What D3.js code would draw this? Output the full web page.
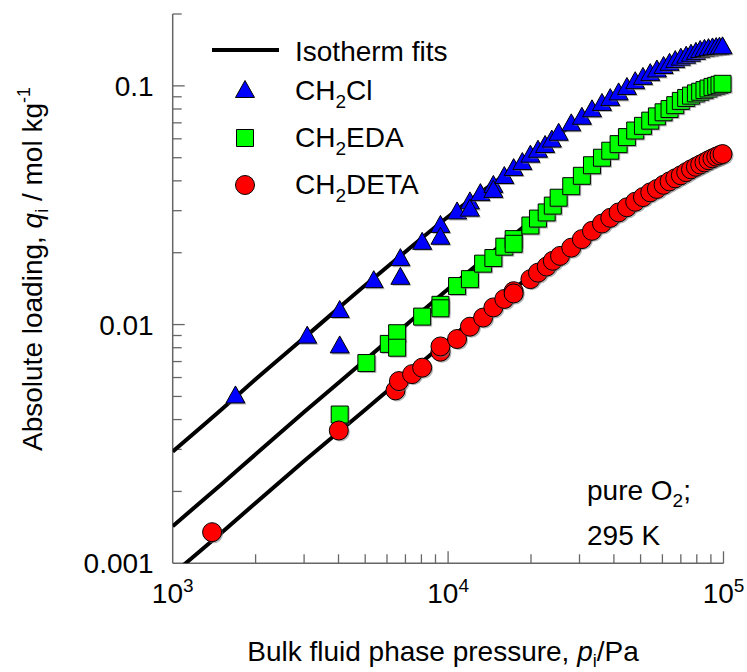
<!DOCTYPE html>
<html><head><meta charset="utf-8">
<script src="https://cdn.jsdelivr.net/npm/d3@7"></script>
<style>body{margin:0;background:#fff}svg{display:block}text{font-family:"Liberation Sans",Arial,sans-serif;fill:#000}</style>
</head><body><svg id="c" width="747" height="672"></svg>
<script>
// ---------- data ----------
const xTickLabels = ["3", "4", "5"];          // exponents of 10
const yTickLabels = ["0.001", "0.01", "0.1"];
const seriesNames = ["CH2Cl", "CH2EDA", "CH2DETA"];

const fitP    = [1000,1500,2000,3000,5000,7000,10000,15000,20000,30000,40000,50000,60000,70000,80000,90000,100000];
const fitCl   = [0.00294,0.0044,0.0059,0.0088,0.0146,0.0202,0.0283,0.0400,0.0510,0.0722,0.0905,0.1065,0.1195,0.1295,0.1375,0.1425,0.1455];
const fitEda  = [0.00143,0.00214,0.00286,0.0043,0.0071,0.0099,0.0141,0.0208,0.0272,0.0412,0.0552,0.0672,0.0772,0.0862,0.0935,0.0985,0.1025];
const fitDeta = [0.0009,0.00134,0.00179,0.00268,0.0044,0.0061,0.0086,0.0125,0.0160,0.0226,0.0286,0.0338,0.0383,0.0423,0.0460,0.0490,0.0518];

const clP = [1690,3080,4040,4040,5370,6710,6710,8050,9380,9380,10780,12000,12000,13100,14600,14600,16000,17300,18600,19900,21200,22500,23800,25200,28000,30600,33300,36200,38800,41600,44600,47800,51000,54200,57300,60600,63700,66800,70000,73200,76200,79400,82300,85300,88200,91200,94100,96700,99200];
const clQ = [0.0050,0.0089,0.0114,0.0081,0.0152,0.0188,0.0157,0.0220,0.0259,0.0231,0.0295,0.0325,0.0303,0.0352,0.0381,0.0363,0.0415,0.0448,0.0475,0.0510,0.0535,0.0560,0.0590,0.0630,0.0690,0.0735,0.0790,0.0840,0.0880,0.0930,0.0980,0.1036,0.1080,0.1120,0.1160,0.1200,0.1237,0.1270,0.1300,0.1325,0.1350,0.1375,0.1400,0.1415,0.1425,0.1435,0.1440,0.1445,0.1450];

const edaP = [4040,5050,6090,6530,6530,8050,9380,9380,10780,12000,13400,14600,16000,17300,17300,19900,21200,22800,24000,25200,28000,30600,33300,36200,38800,41600,44600,47800,51000,54200,57300,60600,63700,66800,70000,73200,76200,79400,82300,85300,88200,91200,94100,96700,99200];
const edaQ = [0.0042,0.0069,0.0083,0.0092,0.0080,0.0108,0.0121,0.0117,0.0145,0.0155,0.0180,0.0190,0.0212,0.0228,0.0218,0.0260,0.0278,0.0295,0.0315,0.0340,0.0380,0.0420,0.0465,0.0500,0.0535,0.0570,0.0610,0.0650,0.0680,0.0715,0.0745,0.0775,0.0800,0.0830,0.0865,0.0890,0.0910,0.0930,0.0945,0.0960,0.0975,0.0990,0.1000,0.1010,0.1020];

const detaP = [1390,4010,6440,6630,7400,8050,9380,9380,10780,12000,13400,14600,16000,17300,17300,19900,21200,22800,24000,25500,28000,30600,33300,36200,38800,41600,44600,47800,51000,54200,57300,60600,63700,66800,70000,73200,76200,79400,82300,85300,88200,91200,94100,96700,99200];
const detaQ = [0.00135,0.0036,0.0053,0.0058,0.0062,0.0066,0.0077,0.0081,0.0087,0.0098,0.0107,0.0118,0.0128,0.0138,0.0135,0.0155,0.0165,0.0175,0.0185,0.0194,0.0210,0.0228,0.0247,0.0265,0.0280,0.0295,0.0310,0.0327,0.0342,0.0358,0.0370,0.0385,0.0398,0.0410,0.0422,0.0435,0.0447,0.0458,0.0468,0.0478,0.0488,0.0497,0.0505,0.0512,0.0518];

// ---------- layout ----------
const svg = d3.select("#c");
const L = 172.7, R = 723.5, T = 14, B = 563.3;
const FS = 28;
const x = d3.scaleLog().domain([1e3, 1e5]).range([L, R]);
const y = d3.scaleLog().domain([0.001, 0.2]).range([B, T]);
const axisCol = "#666";

svg.append("clipPath").attr("id","clip").append("rect")
  .attr("x", L).attr("y", T).attr("width", R - L).attr("height", B - T);

svg.append("line").attr("x1",L).attr("x2",L).attr("y1",T).attr("y2",B).attr("stroke",axisCol).attr("stroke-width",1.5);
svg.append("line").attr("x1",L).attr("x2",R).attr("y1",B).attr("y2",B).attr("stroke",axisCol).attr("stroke-width",1.5);

const xMajor = [1e3,1e4,1e5];
const xMinor = [];
[1e3,1e4].forEach(d => { for (let k=2;k<=9;k++) xMinor.push(d*k); });
svg.selectAll(".xmaj").data(xMajor.slice(1)).enter().append("line")
  .attr("x1",d=>x(d)).attr("x2",d=>x(d)).attr("y1",B).attr("y2",B-12).attr("stroke",axisCol).attr("stroke-width",1.3);
svg.selectAll(".xmin").data(xMinor).enter().append("line")
  .attr("x1",d=>x(d)).attr("x2",d=>x(d)).attr("y1",B).attr("y2",B-9).attr("stroke",axisCol).attr("stroke-width",1.3);
const yMajor = [0.001,0.01,0.1];
const yMinor = [];
[0.001,0.01,0.1].forEach(d => { for (let k=2;k<=9;k++) { const v=d*k; if (v<=0.2000001) yMinor.push(v);} });
svg.selectAll(".ymaj").data(yMajor.slice(1)).enter().append("line")
  .attr("x1",L).attr("x2",L+12).attr("y1",d=>y(d)).attr("y2",d=>y(d)).attr("stroke",axisCol).attr("stroke-width",1.3);
svg.selectAll(".ymin").data(yMinor).enter().append("line")
  .attr("x1",L).attr("x2",L+9).attr("y1",d=>y(d)).attr("y2",d=>y(d)).attr("stroke",axisCol).attr("stroke-width",1.3);

svg.selectAll(".ylab").data(yMajor).enter().append("text")
  .attr("x", L-19).attr("y", d=>y(d)+10).attr("text-anchor","end").attr("font-size",FS)
  .text((d,i)=>yTickLabels[i]);
const xl = svg.selectAll(".xlab").data(xMajor).enter().append("text")
  .attr("x", d=>x(d)).attr("y", 603).attr("text-anchor","middle").attr("font-size",FS);
xl.append("tspan").text("10");
xl.append("tspan").attr("font-size",19).attr("dy",-11).text((d,i)=>xTickLabels[i]);

const xt = svg.append("text").attr("x",443).attr("y",661).attr("text-anchor","middle").attr("font-size",FS);
xt.append("tspan").text("Bulk fluid phase pressure, ");
xt.append("tspan").attr("font-style","italic").text("p");
xt.append("tspan").attr("font-size",18).attr("dy",6).text("i");
xt.append("tspan").attr("dy",-6).text("/Pa");

const yt = svg.append("text").attr("transform","translate(42,269) rotate(-90)").attr("text-anchor","middle").attr("font-size",FS);
yt.append("tspan").text("Absolute loading, ");
yt.append("tspan").attr("font-style","italic").text("q");
yt.append("tspan").attr("font-size",18).attr("dy",6).text("i");
yt.append("tspan").attr("dy",-6).text(" / mol kg");
yt.append("tspan").attr("font-size",18).attr("dy",-12).text("-1");

const line = d3.line().x(d=>x(d[0])).y(d=>y(d[1])).curve(d3.curveMonotoneX);
const gLines = svg.append("g").attr("clip-path","url(#clip)");
[fitCl, fitEda, fitDeta].forEach(arr => {
  gLines.append("path").datum(fitP.map((p,i)=>[p,arr[i]]))
    .attr("d", line).attr("fill","none").attr("stroke","#000").attr("stroke-width",4);
});

const tri = "M0,-10.5L9.5,6.5L-9.5,6.5Z";
const sq = "M-8.5,-8.5H8.5V8.5H-8.5Z";
const circ = d3.path(); circ.arc(0,0,9.5,0,2*Math.PI); const circD = circ.toString();
const shapes = [tri, sq, circD];
const colors = ["#0000ff","#00ff00","#ff0000"];
const seriesP = [clP, edaP, detaP];
const seriesQ = [clQ, edaQ, detaQ];

seriesP.forEach((P, s) => {
  const pts = P.map((p,i)=>[p, seriesQ[s][i]]);
  const g = svg.append("g");
  const m = g.selectAll("g").data(pts).enter().append("g")
    .attr("transform", d=>`translate(${x(d[0])},${y(d[1])})`);
  m.append("path").attr("d", shapes[s]).attr("transform","translate(1.5,1.5)")
    .attr("fill","#777").attr("opacity",0.55);
  m.append("path").attr("d", shapes[s]).attr("fill", colors[s]).attr("stroke","#000").attr("stroke-width",1);
});

const lg = svg.append("g");
lg.append("line").attr("x1",212).attr("x2",279).attr("y1",50).attr("y2",50).attr("stroke","#000").attr("stroke-width",4);
lg.append("text").attr("x",295).attr("y",61).attr("font-size",FS).text("Isotherm fits");
const legBase = [100, 147, 194];
seriesNames.forEach((name, s) => {
  lg.append("path").attr("d", shapes[s]).attr("transform",`translate(245,${legBase[s]-9})`)
    .attr("fill", colors[s]).attr("stroke","#000").attr("stroke-width",1);
  const t = lg.append("text").attr("x",295).attr("y",legBase[s]).attr("font-size",FS);
  t.append("tspan").text(name.slice(0,2));
  t.append("tspan").attr("font-size",19).attr("dy",8).text(name.slice(2,3));
  t.append("tspan").attr("dy",-8).text(name.slice(3));
});

const a1 = svg.append("text").attr("x",587).attr("y",500).attr("font-size",FS);
a1.append("tspan").text("pure O");
a1.append("tspan").attr("font-size",19).attr("dy",7).text("2");
a1.append("tspan").attr("dy",-7).text(";");
svg.append("text").attr("x",587).attr("y",545).attr("font-size",FS).text("295 K");
</script></body></html>
